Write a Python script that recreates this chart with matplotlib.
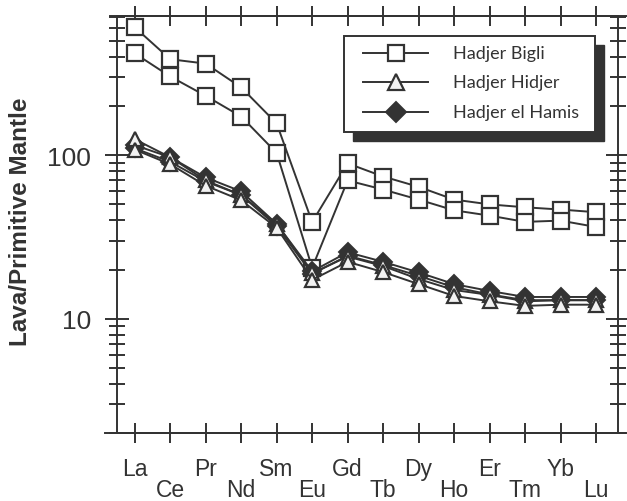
import matplotlib
matplotlib.use('Agg')
import matplotlib.pyplot as plt
from matplotlib.patches import Rectangle
from matplotlib.lines import Line2D
from matplotlib.ticker import FixedLocator, LogLocator, NullFormatter, FixedFormatter

elements = ['La', 'Ce', 'Pr', 'Nd', 'Sm', 'Eu', 'Gd', 'Tb', 'Dy', 'Ho', 'Er', 'Tm', 'Yb', 'Lu']

bigli_1 = [603, 385, 362, 259, 156, 39, 89, 74, 64, 53.5, 50, 48, 46.5, 44.8]
bigli_2 = [418, 302, 230, 172, 103, 20.5, 70, 61.6, 53.5, 46, 42.7, 39.1, 39.8, 36.4]
hamis_1 = [115, 97, 73, 60, 38, 19.5, 25.5, 22.3, 19.2, 16.3, 14.8, 13.6, 13.6, 13.6]
hamis_2 = [110, 91, 69, 57, 36.8, 18.8, 24.3, 21.3, 18.3, 15.6, 14.1, 13.0, 13.0, 13.0]
hidjer_1 = [125, 97, 70, 57, 38, 19, 24, 21, 17.5, 15, 14, 12.8, 13, 13]
hidjer_2 = [108, 88, 65, 53, 36, 17.3, 22.3, 19.3, 16.3, 13.8, 12.8, 12, 12.2, 12.2]

legend_labels = ['Hadjer Bigli', 'Hadjer Hidjer', 'Hadjer el Hamis']
y_major = [10, 100]
y_major_labels = ['10', '100']

DARK = '#333333'
LW = 1.4

fig = plt.figure(figsize=(6.27, 5.02), dpi=100)
ax = fig.add_axes([117 / 627, (502 - 434.3) / 502, 501 / 627, 417.6 / 502])

x = list(range(len(elements)))
sq = dict(marker='s', markersize=11, markerfacecolor='white', markeredgecolor=DARK,
          markeredgewidth=1.6, color=DARK, linewidth=1.4)
dm = dict(marker='D', markersize=9, markerfacecolor=DARK, markeredgecolor=DARK,
          markeredgewidth=1.4, color=DARK, linewidth=1.4)
tr = dict(marker='^', markersize=10.5, markerfacecolor='#f2f2f2', markeredgecolor=DARK,
          markeredgewidth=1.6, color=DARK, linewidth=1.4)

for s in (bigli_1, bigli_2):
    ax.plot(x, s, **sq)
for s in (hamis_1, hamis_2):
    ax.plot(x, s, **dm)
for s in (hidjer_1, hidjer_2):
    ax.plot(x, s, **tr)

ax.set_yscale('log')
ax.set_ylim(2, 710)
ax.set_xlim(-0.5, 13.62)

ax.yaxis.set_major_locator(FixedLocator(y_major))
ax.yaxis.set_major_formatter(FixedFormatter(y_major_labels))
ax.yaxis.set_minor_locator(LogLocator(base=10, subs=range(2, 10), numticks=20))
ax.yaxis.set_minor_formatter(NullFormatter())

ax.set_xticks(x)
ax.set_xticklabels(elements)

for sp in ax.spines.values():
    sp.set_color(DARK)
    sp.set_linewidth(LW)

ax.tick_params(axis='y', which='major', direction='inout', length=17, width=LW,
               left=True, right=True, labelsize=19, pad=10, color=DARK, labelcolor=DARK)
ax.tick_params(axis='y', which='minor', direction='inout', length=12, width=LW,
               left=True, right=True, color=DARK)
ax.tick_params(axis='x', which='major', direction='inout', length=15, width=LW,
               top=True, bottom=True, labelsize=16.5, pad=9.5, color=DARK, labelcolor=DARK)
for i, t in enumerate(ax.xaxis.get_major_ticks()):
    if i % 2 == 1:
        t.set_pad(25)
for lab in ax.get_xticklabels() + ax.get_yticklabels():
    lab.set_fontfamily('Liberation Sans')

# extended horizontal axis lines
ax.add_line(Line2D([-0.024, 1.02], [0, 0], transform=ax.transAxes, color=DARK,
                   linewidth=LW, clip_on=False))
ax.add_line(Line2D([-0.014, 1.02], [1, 1], transform=ax.transAxes, color=DARK,
                   linewidth=LW, clip_on=False))

ax.set_ylabel('Lava/Primitive Mantle', fontsize=17.5, fontweight='bold',
              fontfamily='Liberation Sans', color=DARK, va='center', rotation_mode='anchor')
ax.yaxis.set_label_coords(-0.192, 0.509)

# legend (manual, with shadow)
def ax_x(px):
    return (px - 117) / 501

def ax_y(py):
    return (434.3 - py) / 417.6

ax.add_patch(Rectangle((ax_x(353), ax_y(142)), ax_x(604) - ax_x(353), ax_y(46) - ax_y(142),
                       transform=ax.transAxes, facecolor=DARK, edgecolor=DARK, zorder=5))
ax.add_patch(Rectangle((ax_x(344), ax_y(133)), ax_x(595) - ax_x(344), ax_y(37) - ax_y(133),
                       transform=ax.transAxes, facecolor='white', edgecolor=DARK,
                       linewidth=1.4, zorder=6))
styles = [dict(sq, markersize=12), dict(tr, markersize=11), dict(dm, markersize=10.5)]
rows = [54, 83, 113]
for lab, st, py in zip(legend_labels, styles, rows):
    ax.add_line(Line2D([ax_x(363), ax_x(428)], [ax_y(py), ax_y(py)], transform=ax.transAxes,
                       color=DARK, linewidth=1.4, zorder=7))
    st2 = {k: v for k, v in st.items() if k not in ('color', 'linewidth')}
    ax.add_line(Line2D([ax_x(395.5)], [ax_y(py)], transform=ax.transAxes, linestyle='none',
                       zorder=8, **st2))
    ax.text(ax_x(453), ax_y(py), lab, transform=ax.transAxes, fontsize=13,
            fontfamily='Lato', color=DARK, va='center', ha='left', zorder=9)

fig.savefig('out.png', dpi=100)
